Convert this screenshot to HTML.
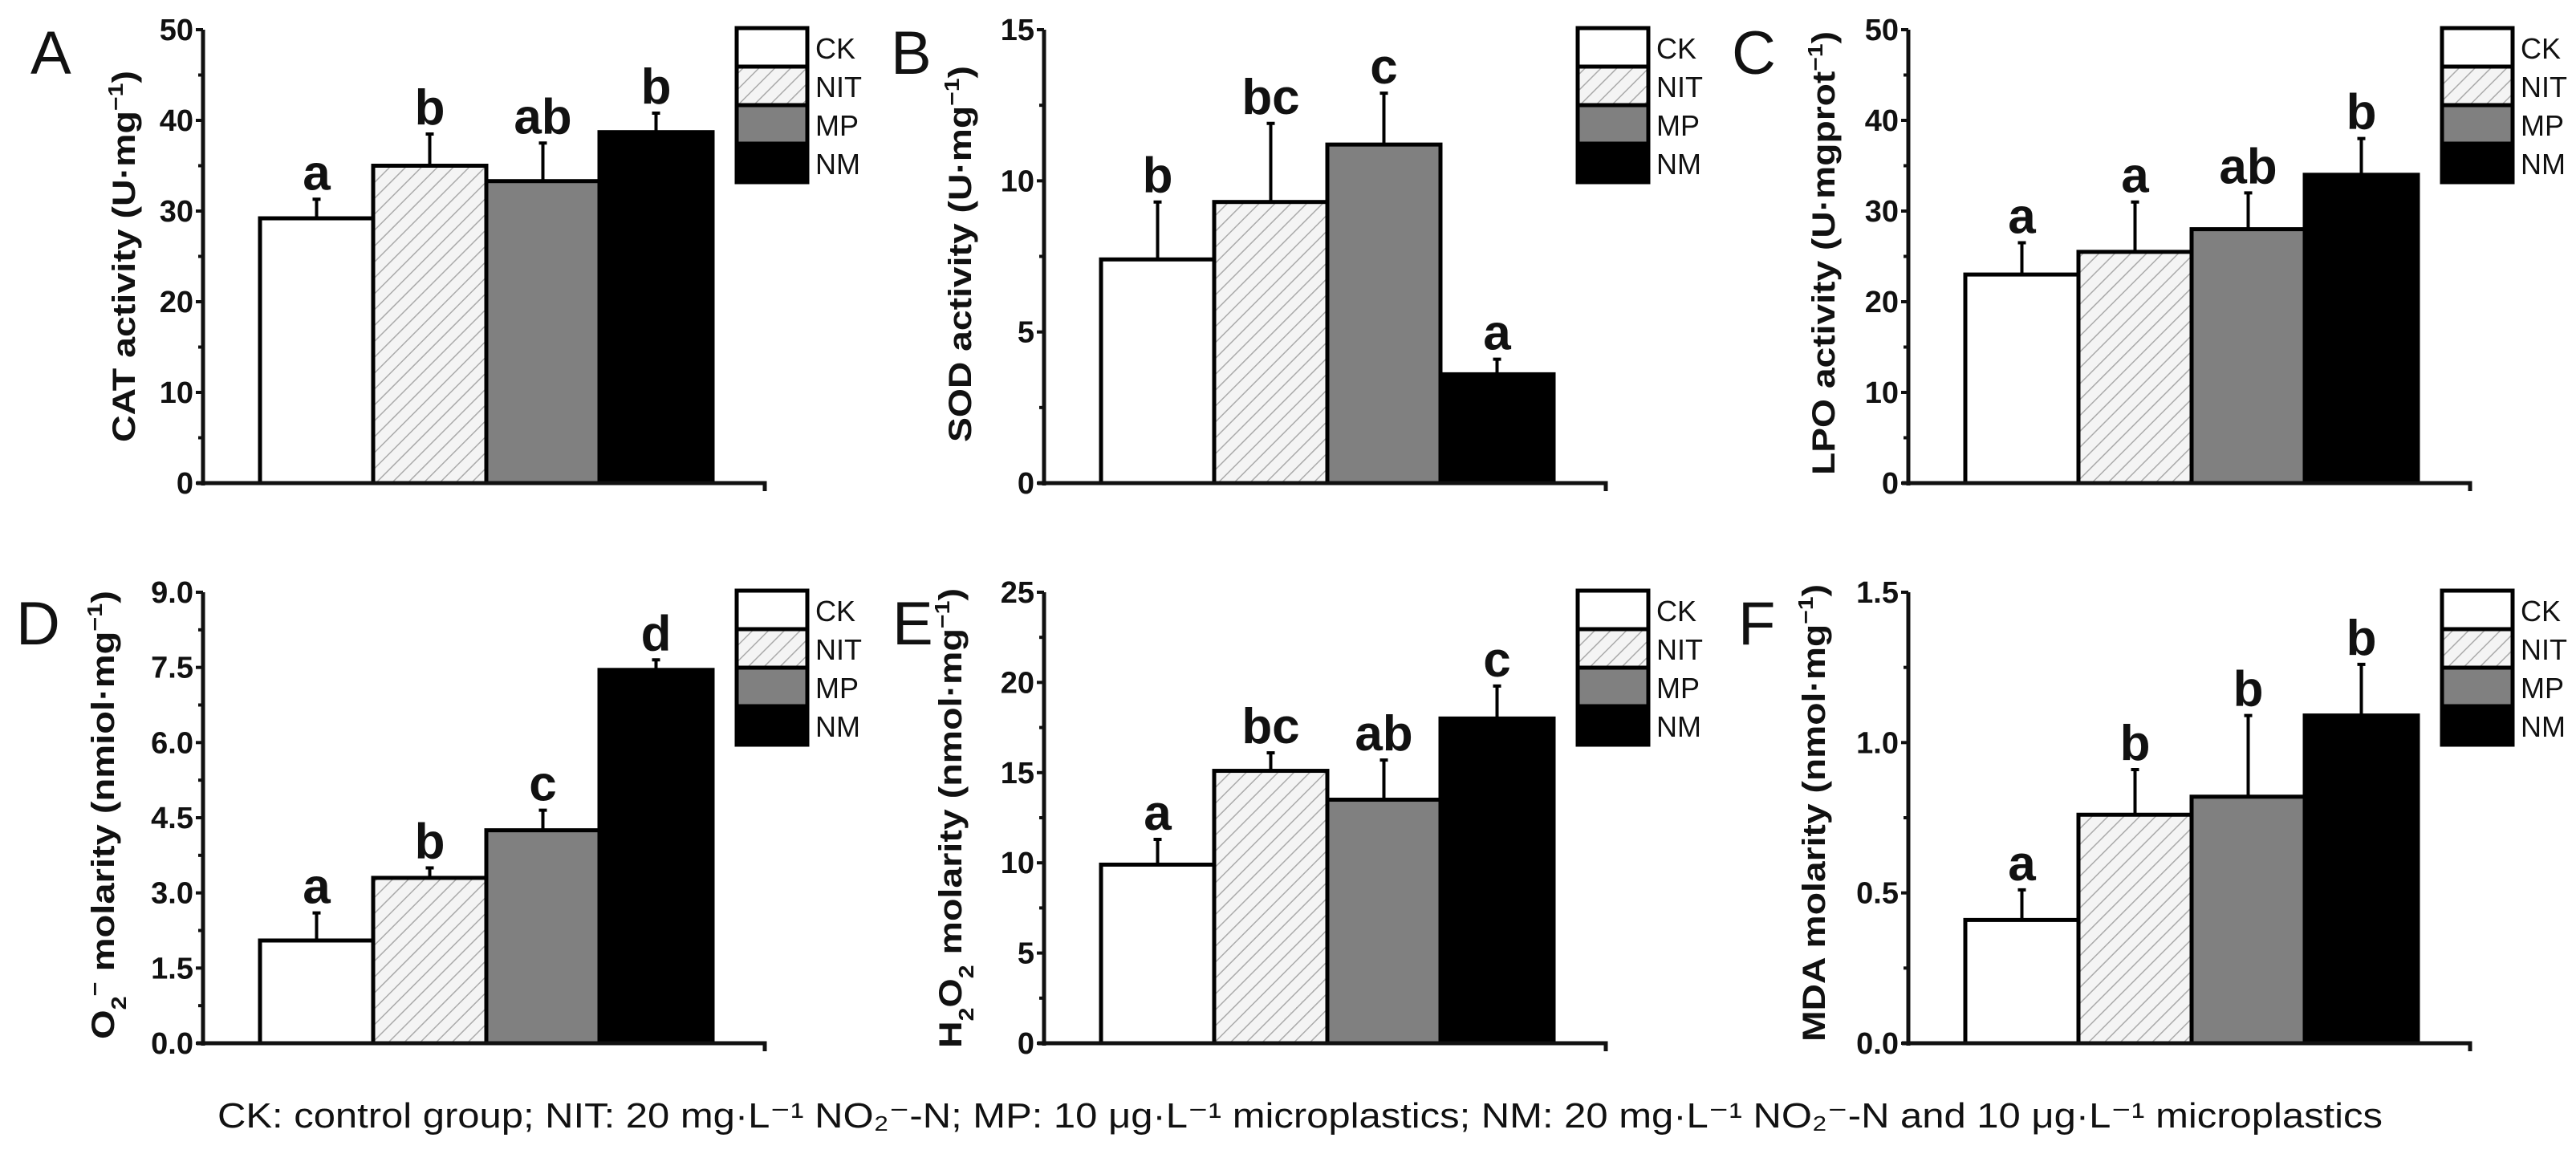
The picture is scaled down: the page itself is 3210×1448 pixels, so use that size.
<!DOCTYPE html>
<html><head><meta charset="utf-8">
<style>
html,body{margin:0;padding:0;background:#fff;}
svg{display:block;font-family:"Liberation Sans",Arial,sans-serif;}
</style></head>
<body>
<svg id="fig" width="3210" height="1448" viewBox="0 0 3210 1448" xmlns="http://www.w3.org/2000/svg">
<defs>
<pattern id="hatch" patternUnits="userSpaceOnUse" width="14" height="14" patternTransform="rotate(45)">
<rect width="14" height="14" fill="#f4f4f4"/>
<line x1="0" y1="0" x2="0" y2="14" stroke="#aaa" stroke-width="3"/>
</pattern>
</defs>
<g id="panels"></g>
<text x="271" y="1405" font-size="44" fill="#111" textLength="2698" lengthAdjust="spacingAndGlyphs">CK: control group; NIT: 20 mg·L⁻¹ NO₂⁻-N; MP: 10 μg·L⁻¹ microplastics; NM: 20 mg·L⁻¹ NO₂⁻-N and 10 μg·L⁻¹ microplastics</text>
</svg>
<script>
const groups = ["CK","NIT","MP","NM"];
const catMeans = [29.2, 35.0, 33.3, 38.7];
const catErr = [2.1, 3.5, 4.2, 2.1];
const catLetters = ["a","b","ab","b"];
const sodMeans = [7.4, 9.3, 11.2, 3.6];
const sodErr = [1.9, 2.6, 1.7, 0.5];
const sodLetters = ["b","bc","c","a"];
const lpoMeans = [23.0, 25.5, 28.0, 34.0];
const lpoErr = [3.5, 5.5, 4.0, 4.0];
const lpoLetters = ["a","a","ab","b"];
const o2Means = [2.05, 3.3, 4.25, 7.45];
const o2Err = [0.55, 0.2, 0.4, 0.2];
const o2Letters = ["a","b","c","d"];
const h2o2Means = [9.9, 15.1, 13.5, 18.0];
const h2o2Err = [1.4, 1.0, 2.2, 1.8];
const h2o2Letters = ["a","bc","ab","c"];
const mdaMeans = [0.41, 0.76, 0.82, 1.09];
const mdaErr = [0.10, 0.15, 0.27, 0.17];
const mdaLetters = ["a","b","b","b"];
const catTicks = [0,10,20,30,40,50];
const sodTicks = [0,5,10,15];
const lpoTicks = [0,10,20,30,40,50];
const o2Ticks = [0,1.5,3,4.5,6,7.5,9];
const h2o2Ticks = [0,5,10,15,20,25];
const mdaTicks = [0,0.5,1,1.5];

const NS="http://www.w3.org/2000/svg";
const root=document.getElementById('panels');
function mk(tag,attrs,parent){const e=document.createElementNS(NS,tag);for(const k in attrs)e.setAttribute(k,attrs[k]);(parent||root).appendChild(e);return e;}
const fills=["#ffffff","url(#hatch)","#808080","#000000"];

const panels=[
 {id:"a",letter:"A",lx:38,ly:92,ax:253,top:37,zero:602,max:50,ticks:catTicks,dec:0,means:catMeans,err:catErr,lets:catLetters,tx:168,ty0:551,ty1:88,title:'CAT activity (U·mg<tspan baseline-shift="super" font-size="26">−1</tspan>)'},
 {id:"b",letter:"B",lx:1110,ly:92,ax:1301,top:37,zero:602,max:15,ticks:sodTicks,dec:0,means:sodMeans,err:sodErr,lets:sodLetters,tx:1210,ty0:551,ty1:82,title:'SOD activity (U·mg<tspan baseline-shift="super" font-size="26">−1</tspan>)'},
 {id:"c",letter:"C",lx:2158,ly:92,ax:2378,top:37,zero:602,max:50,ticks:lpoTicks,dec:0,means:lpoMeans,err:lpoErr,lets:lpoLetters,tx:2286,ty0:592,ty1:39,title:'LPO activity (U·mgprot<tspan baseline-shift="super" font-size="26">−1</tspan>)'},
 {id:"d",letter:"D",lx:20,ly:803,ax:253,top:738,zero:1300,max:9,ticks:o2Ticks,dec:1,means:o2Means,err:o2Err,lets:o2Letters,tx:142,ty0:1295,ty1:736,title:'O<tspan baseline-shift="sub" font-size="26">2</tspan><tspan baseline-shift="super" font-size="26">−</tspan> molarity (nmiol·mg<tspan baseline-shift="super" font-size="26">−1</tspan>)'},
 {id:"e",letter:"E",lx:1112,ly:803,ax:1301,top:738,zero:1300,max:25,ticks:h2o2Ticks,dec:0,means:h2o2Means,err:h2o2Err,lets:h2o2Letters,tx:1198,ty0:1306,ty1:733,title:'H<tspan baseline-shift="sub" font-size="26">2</tspan>O<tspan baseline-shift="sub" font-size="26">2</tspan> molarity (nmol·mg<tspan baseline-shift="super" font-size="26">−1</tspan>)'},
 {id:"f",letter:"F",lx:2166,ly:803,ax:2378,top:738,zero:1300,max:1.5,ticks:mdaTicks,dec:1,means:mdaMeans,err:mdaErr,lets:mdaLetters,tx:2274,ty0:1298,ty1:728,title:'MDA molarity (nmol·mg<tspan baseline-shift="super" font-size="26">−1</tspan>)'}
];

panels.forEach(p=>{
 const g=mk('g',{});
 
 
 const y=v=>p.zero-(v/p.max)*(p.zero-p.top);
 const barW=141, x0=p.ax+71, axEnd=p.ax+700;
 // panel letter
 const L=mk('text',{x:p.lx,y:p.ly,'font-size':76,fill:'#111'},g);L.textContent=p.letter;
 
 
 // y title
 const T=mk('text',{x:0,y:0,'font-size':40,'font-weight':'bold',fill:'#111',transform:`translate(${p.tx},${p.ty0}) rotate(-90)`,textLength:(p.ty0-p.ty1),lengthAdjust:'spacingAndGlyphs'},g);
 T.innerHTML=p.title;
 
 
 // bars
 p.means.forEach((m,i)=>{
  const bx=x0+i*barW, by=y(m);
  const r=mk('rect',{x:bx,y:by,width:barW,height:p.zero-by,fill:fills[i],stroke:'#000','stroke-width':5},g);
  
  
  const cx=bx+barW/2, ey=y(m+p.err[i]);
  const eb=mk('path',{d:`M${cx},${by} V${ey} M${cx-5},${ey} H${cx+5}`,stroke:'#000','stroke-width':4,fill:'none'},g);
  
  
  const lt=mk('text',{x:cx,y:ey-12,'font-size':62,'font-weight':'bold','text-anchor':'middle',fill:'#111'},g);
  lt.textContent=p.lets[i];
  
  
 });
 // axes
 const ya=mk('line',{x1:p.ax,y1:p.top,x2:p.ax,y2:p.zero+3,stroke:'#111','stroke-width':5},g);
 
 
 const xa=mk('path',{d:`M${p.ax-8},${p.zero} H${axEnd} V${p.zero+10}`,stroke:'#111','stroke-width':5,fill:'none'},g);
 
 
 p.ticks.forEach((t,i)=>{
  const ty=y(t);
  mk('line',{x1:p.ax-9,y1:ty,x2:p.ax,y2:ty,stroke:'#111','stroke-width':4},g);
  if(i<p.ticks.length-1){const my=y((t+p.ticks[i+1])/2);mk('line',{x1:p.ax-6,y1:my,x2:p.ax,y2:my,stroke:'#111','stroke-width':4},g);}
  const tl=mk('text',{x:p.ax-12,y:ty+13,'font-size':38,'font-weight':'bold','text-anchor':'end',fill:'#111'},g);
  tl.textContent=t.toFixed(p.dec);
  
  
 });
 // legend
 const lgx=p.ax+665, lgy=p.top-2, lh=48;
 const lg=mk('g',{},g);
 
 
 groups.forEach((gname,i)=>{
  const sw=mk('rect',{x:lgx,y:lgy+i*lh,width:88,height:lh,fill:fills[i],stroke:'#000','stroke-width':5},lg);
  
  
  const lt=mk('text',{x:lgx+98,y:lgy+i*lh+38,'font-size':36,fill:'#111'},lg);
  lt.textContent=gname;
  
  
 });
});
</script>
</body></html>
